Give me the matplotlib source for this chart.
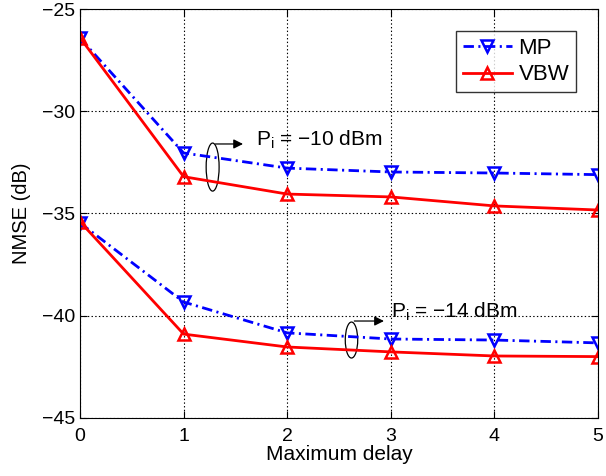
import matplotlib.pyplot as plt
from matplotlib.patches import Ellipse

plt.rcParams['font.family'] = ['Liberation Sans', 'DejaVu Sans']
plt.rcParams['lines.scale_dashes'] = False

delay = [0, 1, 2, 3, 4, 5]

# Pi = -10 dBm
mp_10 = [-26.42, -32.04, -32.78, -32.97, -33.02, -33.1]
vbw_10 = [-26.4, -33.2, -34.05, -34.19, -34.63, -34.83]

# Pi = -14 dBm
mp_14 = [-35.46, -39.33, -40.84, -41.14, -41.19, -41.33]
vbw_14 = [-35.4, -40.9, -41.53, -41.77, -41.97, -42.0]

fig = plt.figure(figsize=(6.06, 4.76), dpi=100)
ax = fig.add_axes([0.132, 0.122, 0.855, 0.859])

mp_style = dict(color='blue', linestyle=(0, (7.5, 3.2, 1.5, 3.2)), linewidth=2, marker='v',
                markersize=9, markerfacecolor='none', markeredgewidth=1.8)
vbw_style = dict(color='red', linestyle='-', linewidth=2, marker='^',
                 markersize=9, markerfacecolor='none', markeredgewidth=1.8)

ax.plot(delay, mp_10, label='MP', **mp_style)
ax.plot(delay, vbw_10, label='VBW', **vbw_style)
ax.plot(delay, mp_14, **mp_style)
ax.plot(delay, vbw_14, **vbw_style)

# annotation ellipses and arrows
ax.add_patch(Ellipse((1.28, -32.73), 0.125, 2.35, fill=False, edgecolor='black', linewidth=0.9))
ax.annotate('', xy=(1.6, -31.6), xytext=(1.28, -31.6),
            arrowprops=dict(arrowstyle='-|>', color='black', lw=0.9, mutation_scale=14))
ax.text(1.7, -31.4, r'P$_\mathregular{i}$ = −10 dBm', fontsize=15, va='center', ha='left')

ax.add_patch(Ellipse((2.62, -41.19), 0.12, 1.76, fill=False, edgecolor='black', linewidth=0.9))
ax.annotate('', xy=(2.96, -40.26), xytext=(2.62, -40.26),
            arrowprops=dict(arrowstyle='-|>', color='black', lw=0.9, mutation_scale=14))
ax.text(3.0, -39.8, r'P$_\mathregular{i}$ = −14 dBm', fontsize=15, va='center', ha='left')

ax.set_xlim(0, 5)
ax.set_ylim(-45, -25)
ax.set_xticks(delay)
ax.set_yticks([-45, -40, -35, -30, -25])
ax.set_yticklabels(['−45', '−40', '−35', '−30', '−25'])
ax.tick_params(direction='in', labelsize=14, top=True, right=True, length=5)
ax.tick_params(axis='x', pad=7)
ax.grid(True, linestyle=':', color='black', linewidth=0.8)
ax.set_xlabel('Maximum delay', fontsize=15, labelpad=0)
ax.set_ylabel('NMSE (dB)', fontsize=14.5, labelpad=8)

leg = ax.legend(loc='upper right', fontsize=16, frameon=True, fancybox=False,
                edgecolor='black', borderaxespad=1.0, handlelength=2.2,
                borderpad=0.3, labelspacing=0.25, handletextpad=0.3)
leg.get_frame().set_linewidth(1.0)

plt.savefig('out.png', dpi=100)
plt.close()
